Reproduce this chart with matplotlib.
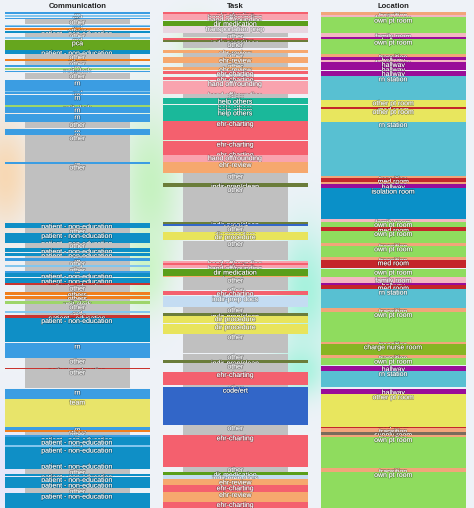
#%% Shift timeline - communication / task / location
# one column per coding stream, bands stacked down the shift (minutes)
import numpy as np
import matplotlib.pyplot as plt
import matplotlib.patheffects as pe

plt.rcParams['font.family'] = ['Liberation Sans', 'DejaVu Sans']

#%% data: (start, end, code) in minutes from start of observation
comm_start = [0.3, 3.3, 5.5, 7, 12.7, 14, 16, 18.7, 21, 25.3, 28, 38, 42, 47.3, 49, 53, 56, 58.7, 61,
              68, 78.5, 80, 82.5, 93, 95, 102, 109.7, 117, 120, 123, 149.7, 152.3, 211.3, 216.3, 220.7,
              228.5, 230.7, 236.3, 240.7, 244, 246.3, 248.7, 253, 255.3, 258.7, 261.3, 266.3, 271.3,
              273.3, 279.7, 283.5, 287.3, 289, 292, 298.7, 300.7, 303, 305.7, 331.3, 346.3, 355.7,
              357.3, 377.3, 387.3, 414.7, 418, 419.5, 423, 424.7, 427.3, 433, 435.3, 451.3, 457.3,
              462, 464.7, 470.3, 476.3, 481.3]
comm_end = [1.7, 4.7, 6.7, 12, 14, 15.3, 18, 21, 24.7, 26.7, 37.5, 42, 47, 48.7, 52.5, 54.5, 57.5, 60.5, 67,
            79, 80, 82, 93, 94.5, 101, 109.7, 116.3, 119.5, 123, 149.5, 152.3, 211.3, 216.3, 220.7, 228.7,
            230.7, 236.3, 239.7, 244, 246.3, 248.7, 253, 255.3, 258.7, 260.7, 265.3, 270.7, 273.3,
            279.7, 283, 287.3, 289, 292, 298.7, 300.7, 303, 305.7, 329.7, 346.3, 355.7, 357.3,
            376.3, 387.3, 414.7, 418, 419.5, 423, 424.7, 427.3, 433, 435.3, 451.3, 457.3, 462,
            464, 469.7, 476.3, 481.3, 496]
comm_code = ['rn', 'md', 'rn', 'other', 'md', 'rn', 'others', 'patient - non-education', 'other', 'md',
             'pca', 'patient - non-education', 'other', 'others', 'other', 'rn', 'unit clerk', 'rn', 'other',
             'rn', 'md', 'rn', 'rn', 'unit clerk', 'rn', 'rn', 'other', 'rn', 'rn', 'other', 'rn', 'other',
             'patient - non-education', 'other', 'patient - non-education', 'patient - non-education',
             'other', 'patient - non-education', 'patient - non-education', 'other', 'rn', 'other', 'md',
             'other', 'rn', 'patient - non-education', 'patient - non-education', 'patient - education',
             'other', 'others', 'others', 'other', 'unit clerk', 'other', 'md', 'other',
             'patient - education', 'patient - non-education', 'rn', 'other', 'patient - education',
             'other', 'rn', 'team', 'rn', 'others', 'other', 'rn', 'patient - non-education',
             'patient - non-education', 'md', 'patient - non-education', 'patient - non-education', 'other',
             'patient - non-education', 'patient - non-education', 'patient - non-education', 'other',
             'patient - non-education']

task_start = [0.3, 2.3, 4.7, 8.7, 14, 21.3, 26.3, 28, 29.7, 38, 41, 45.3, 51.3, 54.7, 58.7, 64.7, 68.7,
              80, 82, 84, 86.3, 93, 95.3, 98, 108.7, 129.3, 139.7, 143, 149.7, 161.3, 171.3, 174.7,
              209.7, 212, 214, 219.7, 222, 228.7, 248.7, 251.3, 253.3, 257.3, 264, 265.3, 275, 278.7,
              284, 295, 301.3, 304, 312, 322, 342, 348, 351.3, 359.7, 373, 375.3, 413, 423, 454.7,
              459.7, 463, 467.3, 473, 479.7, 489.7]
task_end = [2.3, 4.7, 8, 14, 20.7, 25.3, 28, 29.7, 36.3, 40.7, 45, 51.3, 54.7, 58, 62, 68, 79.7, 82, 84,
            86, 92, 94.7, 98, 108.7, 128, 139.7, 143, 149.7, 161.3, 171.3, 174.7, 209.7, 212, 214, 219.7,
            222, 228, 248, 250.7, 253.3, 256, 264, 265.3, 274.7, 278, 282.7, 294.7, 301, 304, 311.3, 322,
            341.3, 348, 350.7, 359.7, 373, 375.3, 413, 423, 454.7, 459.7, 463, 467.3, 473, 479.7,
            489.7, 496]
task_code = ['ehr-charting', 'hand off/rounding', 'hand off/rounding', 'dir medication', 'transportation prep',
             'other', 'ehr-charting', 'indir-prep/clean', 'other', 'ehr-review', 'other', 'ehr-review',
             'other', 'ehr-review', 'ehr-charting', 'ehr-charting', 'hand off/rounding', 'hand off/rounding',
             'other', 'other', 'help others', 'help others', 'help others', 'help others', 'ehr-charting',
             'ehr-charting', 'ehr-charting', 'hand off/rounding', 'ehr-review', 'other', 'indir-prep/clean',
             'other', 'indir-prep/clean', 'code/ert', 'other', 'dir procedure', 'dir procedure', 'other',
             'hand off/rounding', 'ehr-charting', 'hand off/rounding', 'dir medication', 'ehr-review',
             'other', 'other', 'ehr-charting', 'indir-prep docs', 'other', 'indir-prep/clean',
             'dir procedure', 'dir procedure', 'other', 'other', 'indir-prep/clean', 'other',
             'ehr-charting', 'other', 'code/ert', 'other', 'ehr-charting', 'other', 'dir medication',
             'indir-prep docs', 'ehr-review', 'ehr-charting', 'ehr-review', 'ehr-charting']

loc_start = [0.3, 3, 5.3, 21.3, 25.3, 27.3, 42, 45.3, 48, 49.7, 54.7, 58.7, 64, 88, 94.7, 96.7, 109.7,
             164, 166.3, 169.7, 172, 176.3, 207.3, 209.7, 215.3, 218.7, 231.3, 234, 245.3, 248, 257.3,
             265.3, 270.7, 273, 277.3, 296.3, 299.7, 329.7, 332, 343, 346.3, 354, 358.7, 377.3, 382,
             414.7, 416.3, 419.7, 423, 424.7, 456.3, 459.7]
loc_end = [3, 5.3, 21.3, 24.7, 27.3, 42, 45.3, 48, 49.7, 54.7, 58, 64, 88, 94.7, 96.7, 109.7, 164,
           166.3, 169.7, 172, 176.3, 207.3, 209.7, 215.3, 218.7, 231.3, 234, 245.3, 248, 256.3, 265.3,
           270.7, 273, 277.3, 296.3, 299.7, 329.7, 332, 343, 346.3, 353, 358.7, 374.7, 382, 414.7,
           416.3, 419.7, 423, 424.7, 456.3, 459.7, 496]
loc_code = ['transition', 'family room', 'own pt room', 'family room', 'hallway', 'own pt room', 'transition',
            'hallway', 'family room', 'hallway', 'hallway', 'hallway', 'rn station', 'other pt room',
            'med room', 'other pt room', 'rn station', 'transition', 'med room', 'transition', 'hallway',
            'isolation room', 'family room', 'own pt room', 'med room', 'own pt room', 'transition',
            'own pt room', 'transition', 'med room', 'own pt room', 'family room', 'hallway', 'med room',
            'rn station', 'transition', 'own pt room', 'transition', 'charge nurse room', 'transition',
            'own pt room', 'hallway', 'rn station', 'hallway', 'other pt room', 'med room', 'transition',
            'supply room', 'transition', 'own pt room', 'transition', 'own pt room']

colors = {
    # communication
    'rn': '#3b9de2', 'patient - non-education': '#0f8fc6', 'md': '#82c6ee', 'other': '#c0c0c0',
    'others': '#f07f1e', 'pca': '#66a61e', 'unit clerk': '#9ed56a', 'patient - education': '#c9342f',
    'team': '#e8e46a',
    # task
    'ehr-charting': '#f4606e', 'ehr-review': '#f6a86e', 'hand off/rounding': '#f9a3ae',
    'help others': '#1ab89a', 'dir medication': '#5a9e1a', 'indir-prep/clean': '#6b7d3a',
    'dir procedure': '#e8e45c', 'indir-prep docs': '#c4dcf2', 'code/ert': '#3266c8',
    'transportation prep': '#e8d6e0',
    # location
    'own pt room': '#8fdc5e', 'other pt room': '#e8e65e', 'rn station': '#58c0d2', 'hallway': '#990d99',
    'med room': '#c4262a', 'isolation room': '#0a90c8', 'charge nurse room': '#86b524',
    'transition': '#f2a57a', 'family room': '#f4b6c2', 'supply room': '#7a6b5b',
}

columns = [('Communication', comm_start, comm_end, comm_code),
           ('Task', task_start, task_end, task_code),
           ('Location', loc_start, loc_end, loc_code)]

#%% figure + soft background
W, H = 474, 508
fig = plt.figure(figsize=(W / 100, H / 100), dpi=100)
fig.patch.set_facecolor('#eef2f8')

bg = fig.add_axes([0, 0, 1, 1], zorder=-10)
yy, xx = np.mgrid[0:H, 0:W]
img = np.ones((H, W, 3)) * np.array([0.935, 0.950, 0.972])
blobs = [((5, 175), (28, 55), (0.97, 0.85, 0.71)),
         ((150, 185), (30, 75), (0.78, 0.95, 0.76)),
         ((305, 290), (28, 60), (0.66, 0.95, 0.87)),
         ((300, 370), (25, 25), (0.66, 0.95, 0.87)),
         ((195, 45), (20, 25), (0.84, 0.96, 0.82)),
         ((145, 270), (22, 40), (0.80, 0.96, 0.78)),
         ((10, 470), (30, 50), (0.90, 0.90, 0.98))]
for (cx, cy), (rx, ry), c in blobs:
    w = np.exp(-(((xx - cx) / rx) ** 2 + ((yy - cy) / ry) ** 2))[..., None]
    img = img * (1 - w) + np.array(c) * w
bg.imshow(img, aspect='auto', extent=[0, W, H, 0])
bg.set_axis_off()

col_left = [5, 163, 321]
col_w = 145
top = 12
shadow = [pe.withStroke(linewidth=1.0, foreground=(0, 0, 0, 0.3))]

for (title, st, en, code), x0 in zip(columns, col_left):
    ax = fig.add_axes([x0 / W, 0, col_w / W, (H - top) / H])
    ax.set_facecolor('none')
    ax.set_xlim(0, 1)
    ax.set_ylim(H - top, 0)
    ax.set_axis_off()
    for i, (s, e, c) in enumerate(zip(st, en, code)):
        if c == 'other':
            left, width = 0.138, 0.724
        else:
            left, width = 0, 1
        ax.barh(s, width, height=e - s, left=left, align='edge', color=colors[c],
                linewidth=0, zorder=2 + i)
        ax.text(0.5, s + 0.3, c, ha='center', va='top', fontsize=5, color='white',
                path_effects=shadow, zorder=2.5 + i, clip_on=True)
    fig.text((x0 + col_w / 2) / W, 1 - 7 / H, title, ha='center', va='center',
             fontsize=5.5, fontweight='bold', color='#222222')

plt.savefig('out.png', dpi=100)
